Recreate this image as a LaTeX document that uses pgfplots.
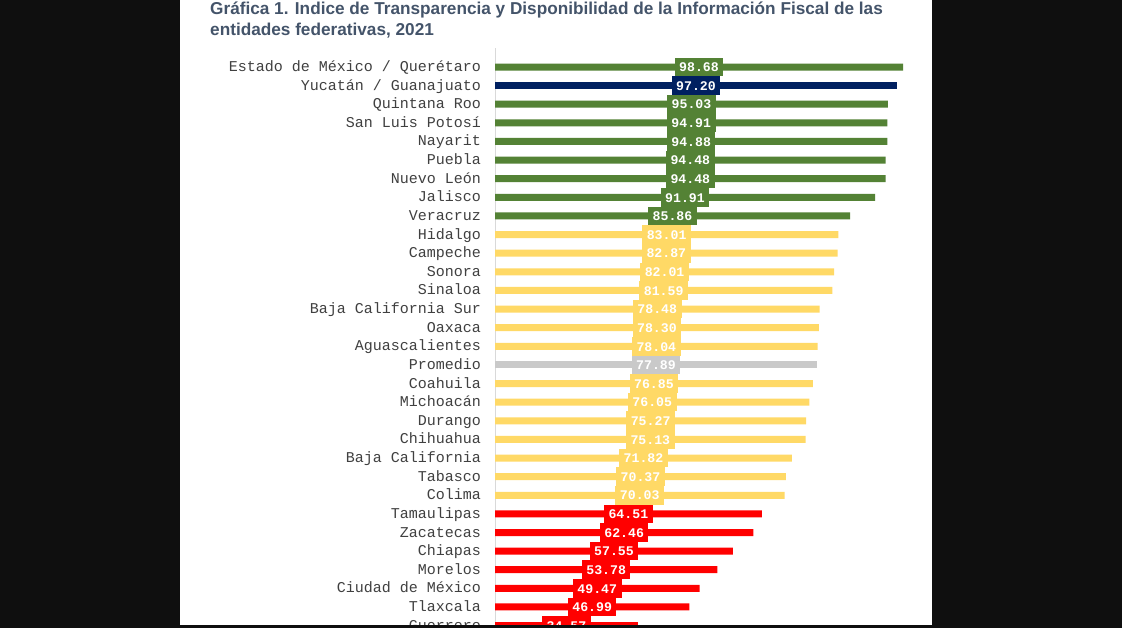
\documentclass[border=0pt]{standalone}
\usepackage{pgfplots}
\pgfplotsset{compat=1.18}
\usepackage{pgfplotstable}
\usepackage{fontspec}
\setmainfont{Liberation Sans}
\newfontfamily\monofont{Liberation Mono}
\newfontfamily\titlefont{Liberation Sans}
\definecolor{cgreen}{HTML}{548235}
\definecolor{cblue}{HTML}{002060}
\definecolor{cyellow}{HTML}{FFD966}
\definecolor{cgrey}{HTML}{C9C9C9}
\definecolor{cred}{HTML}{FF0000}
\definecolor{bgdark}{HTML}{0F0F0F}
\definecolor{titlec}{HTML}{44546A}
\definecolor{labc}{HTML}{404040}

\pgfplotstableread{
y v
1 98.68
3 95.03
4 94.91
5 94.88
6 94.48
7 94.48
8 91.91
9 85.86
}\tgreen
\pgfplotstableread{
y v
2 97.20
}\tblue
\pgfplotstableread{
y v
10 83.01
11 82.87
12 82.01
13 81.59
14 78.48
15 78.30
16 78.04
18 76.85
19 76.05
20 75.27
21 75.13
22 71.82
23 70.37
24 70.03
}\tyellow
\pgfplotstableread{
y v
17 77.89
}\tgrey
\pgfplotstableread{
y v
25 64.51
26 62.46
27 57.55
28 53.78
29 49.47
30 46.99
31 34.57
}\tred

\pgfplotsset{
  valbox/.style={
    only marks, mark=*, mark options={draw=none, fill=none},
    point meta=explicit,
    nodes near coords={\pgfmathprintnumber[fixed,fixed zerofill,precision=2]{\pgfplotspointmeta}},
    nodes near coords align={center},
    every node near coord/.style={anchor=center, fill=#1, text=white,
      font=\monofont\bfseries\fontsize{13.2bp}{14bp}\selectfont,
      inner xsep=4.5bp, inner ysep=4.6bp, text height=9.4bp, text depth=0bp},
  },
  barst/.style={xbar, bar width=7bp, bar shift=0pt, fill=#1, draw=none},
}

\begin{document}
\begin{tikzpicture}
\path[use as bounding box] (0bp,0bp) rectangle (1122bp,628bp);
\fill[bgdark] (0bp,0bp) rectangle (1122bp,628bp);
\fill[white] (180bp,3bp) rectangle (932bp,628bp);
\node[anchor=base west, inner sep=0pt, text=titlec, font=\titlefont\bfseries\fontsize{17.2bp}{20bp}\selectfont] at (210bp,613bp) {Gráfica 1. Indice de Transparencia y Disponibilidad de la Información Fiscal de las};
\node[anchor=base west, inner sep=0pt, text=titlec, font=\titlefont\bfseries\fontsize{17.2bp}{20bp}\selectfont] at (210bp,592bp) {entidades federativas, 2021};
\begin{axis}[
  at={(495bp,579.62bp)}, anchor=north west,
  scale only axis, width=413.5bp, height=586.53bp,
  xmin=0, xmax=100, ymin=0, ymax=31.5,
  y dir=reverse,
  axis x line=none,
  axis y line*=left,
  y axis line style={draw=black!15, line width=0.8bp, -},
  major tick length=0pt,
  xtick=\empty,
  ytick={1,...,31},
  yticklabels={Estado de México / Querétaro, Yucatán / Guanajuato, Quintana Roo, San Luis Potosí, Nayarit, Puebla, Nuevo León, Jalisco, Veracruz, Hidalgo, Campeche, Sonora, Sinaloa, Baja California Sur, Oaxaca, Aguascalientes, Promedio, Coahuila, Michoacán, Durango, Chihuahua, Baja California, Tabasco, Colima, Tamaulipas, Zacatecas, Chiapas, Morelos, Ciudad de México, Tlaxcala, Guerrero},
  yticklabel style={anchor=east, inner sep=0pt, xshift=-14bp, text=labc,
    font=\monofont\fontsize{15bp}{16bp}\selectfont, text height=9bp, text depth=0bp},
  /pgf/number format/assume math mode=true,
]
\addplot[barst=cgreen] table[x=v,y=y]{\tgreen};
\addplot[barst=cblue] table[x=v,y=y]{\tblue};
\addplot[barst=cyellow] table[x=v,y=y]{\tyellow};
\addplot[barst=cgrey] table[x=v,y=y]{\tgrey};
\addplot[barst=cred] table[x=v,y=y]{\tred};
\addplot[valbox=cgreen] table[x expr=\thisrow{v}/2, y=y, meta=v]{\tgreen};
\addplot[valbox=cblue] table[x expr=\thisrow{v}/2, y=y, meta=v]{\tblue};
\addplot[valbox=cyellow] table[x expr=\thisrow{v}/2, y=y, meta=v]{\tyellow};
\addplot[valbox=cgrey] table[x expr=\thisrow{v}/2, y=y, meta=v]{\tgrey};
\addplot[valbox=cred] table[x expr=\thisrow{v}/2, y=y, meta=v]{\tred};
\end{axis}
\fill[bgdark] (0bp,0bp) rectangle (1122bp,3bp);
\end{tikzpicture}
\end{document}
